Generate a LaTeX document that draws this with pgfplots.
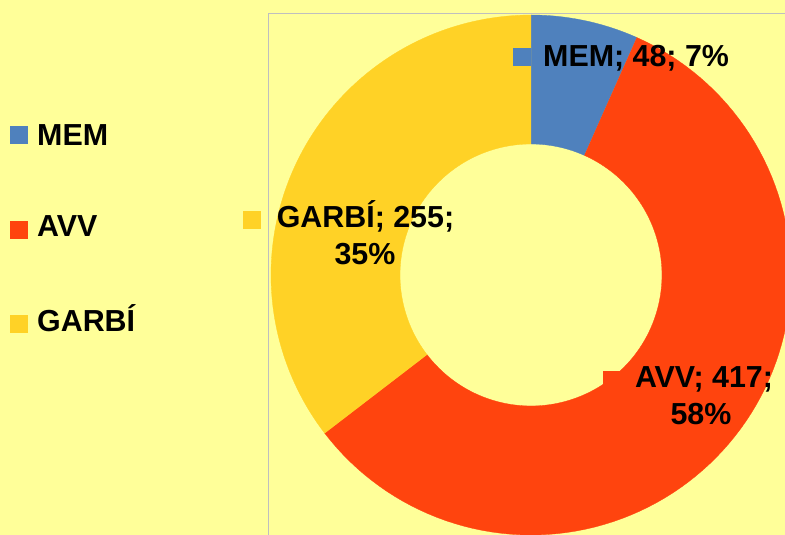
\documentclass[border=0pt]{standalone}
\usepackage{pgfplots}
\pgfplotsset{compat=1.18}
\usepackage{fontspec}
\setmainfont{Liberation Sans}
\definecolor{bg}{RGB}{255,255,153}
\definecolor{cmem}{RGB}{79,129,189}
\definecolor{cavv}{RGB}{255,68,14}
\definecolor{cgar}{RGB}{255,210,38}
\definecolor{frame}{RGB}{191,191,191}
% data
\def\vMEM{48}\def\vAVV{417}\def\vGAR{255}
\pgfmathsetmacro\tot{\vMEM+\vAVV+\vGAR}
\pgfmathsetmacro\aA{90}
\pgfmathsetmacro\aB{90-\vMEM/\tot*360}
\pgfmathsetmacro\aC{\aB-\vAVV/\tot*360}
\pgfmathsetmacro\aD{\aC-\vGAR/\tot*360}
\begin{document}
\begin{tikzpicture}[
  declare function={
    th(\s,\a,\b)=\a+(\b-\a)*(min(\s,1)-max(\s-2,0));
    rh(\s)=260-129*min(max(\s-1,0),1);
  },
  lab/.style={inner sep=0pt, font=\fontsize{30.4}{36}\selectfont\bfseries}]
\fill[bg] (0,0) rectangle (785pt,535pt);
\begin{axis}[at={(0,0)}, anchor=south west, scale only axis,
  width=785pt, height=535pt, xmin=0, xmax=785, ymin=0, ymax=535,
  hide axis, clip=true]
\addplot[frame, line width=1pt] coordinates {(268,-5) (268,521) (790,521)};
\addplot[fill=cmem, draw=cmem, line width=0.3pt, domain=0:3, samples=301, variable=\t]
  ({531+rh(\t)*cos(th(\t,\aA,\aB))},{260+rh(\t)*sin(th(\t,\aA,\aB))});
\addplot[fill=cavv, draw=cavv, line width=0.3pt, domain=0:3, samples=301, variable=\t]
  ({531+rh(\t)*cos(th(\t,\aB,\aC))},{260+rh(\t)*sin(th(\t,\aB,\aC))});
\addplot[fill=cgar, draw=cgar, line width=0.3pt, domain=0:3, samples=301, variable=\t]
  ({531+rh(\t)*cos(th(\t,\aC,\aD))},{260+rh(\t)*sin(th(\t,\aC,\aD))});
% legend and label squares
\addplot[only marks, mark=square*, mark size=8.5pt, color=cmem] coordinates {(19,400.3) (521.5,478.5)};
\addplot[only marks, mark=square*, mark size=8.5pt, color=cavv] coordinates {(19,305.5) (611.5,155.5)};
\addplot[only marks, mark=square*, mark size=8.5pt, color=cgar] coordinates {(19,211.5) (252,315.5)};
% legend texts
\node[lab, anchor=base west] at (axis cs:37,389) {MEM};
\node[lab, anchor=base west] at (axis cs:37,298) {AVV};
\node[lab, anchor=base west] at (axis cs:37,203) {GARBÍ};
% data labels
\node[lab, anchor=base west] at (axis cs:543,468) {MEM; 48; 7\%};
\node[lab, anchor=base] at (axis cs:365.5,307) {GARBÍ; 255;};
\node[lab, anchor=base] at (axis cs:365,270) {35\%};
\node[lab, anchor=base] at (axis cs:704,147) {AVV; 417;};
\node[lab, anchor=base] at (axis cs:701,110) {58\%};
\end{axis}
\pgfresetboundingbox
\useasboundingbox (0,0) rectangle (785pt,535pt);
\end{tikzpicture}
\end{document}
